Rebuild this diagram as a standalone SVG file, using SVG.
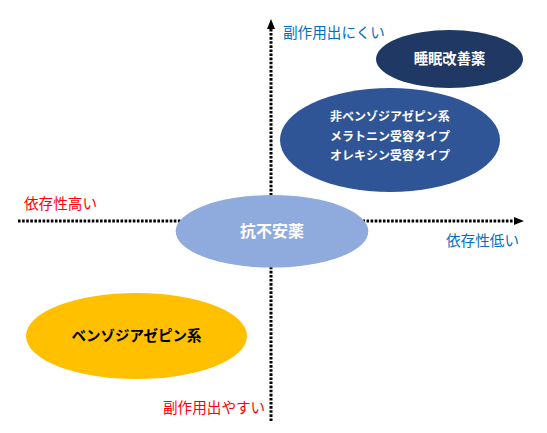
<svg xmlns="http://www.w3.org/2000/svg" width="547" height="433" viewBox="0 0 547 433">
<style>
text{font-family:"Noto Sans CJK JP","Noto Sans",sans-serif;}
.axis{stroke:#000;stroke-width:3;stroke-dasharray:2.6 1.5;fill:none;}
.lbl{font-size:14.6px;}
.red{fill:#FF0000;}
.blue{fill:#0070C0;}
.w{fill:#FFFFFF;font-weight:bold;text-anchor:middle;}
</style>
<rect width="547" height="433" fill="#FFFFFF"/>
<g id="connectors">
<line class="axis" x1="271" y1="421" x2="271" y2="28"/>
<polygon points="271,19 267,29 275,29" fill="#000"/>
<line class="axis" x1="18" y1="221" x2="515" y2="221"/>
<polygon points="524,221 514,217 514,225" fill="#000"/>
</g>
<g id="label-top"><text class="lbl blue" x="283" y="38">副作用出にくい</text></g>
<g id="label-left"><text class="lbl red" x="24" y="209">依存性高い</text></g>
<g id="label-right"><text class="lbl blue" x="446" y="246">依存性低い</text></g>
<g id="label-bottom"><text class="lbl red" x="163" y="413">副作用出やすい</text></g>
<g id="node-sleep">
<ellipse cx="449.5" cy="59" rx="73.5" ry="29" fill="#203864"/>
<text class="w" x="449.5" y="64" font-size="14.3">睡眠改善薬</text>
</g>
<g id="node-nonbenzo">
<ellipse cx="390" cy="140" rx="110" ry="52" fill="#2F5597"/>
<text class="w" x="390" y="121" font-size="12">非ベンゾジアゼピン系</text>
<text class="w" x="390" y="141" font-size="12">メラトニン受容タイプ</text>
<text class="w" x="390" y="160" font-size="12">オレキシン受容タイプ</text>
</g>
<g id="node-anxiolytic">
<ellipse cx="272" cy="231.3" rx="96.3" ry="36.3" fill="#8FAADC"/>
<text class="w" x="272" y="237" font-size="16">抗不安薬</text>
</g>
<g id="node-benzo">
<ellipse cx="136.5" cy="336" rx="110.5" ry="43" fill="#FFC000"/>
<text x="136.5" y="341" font-size="14.5" font-weight="bold" fill="#000" text-anchor="middle">ベンゾジアゼピン系</text>
</g>
</svg>
